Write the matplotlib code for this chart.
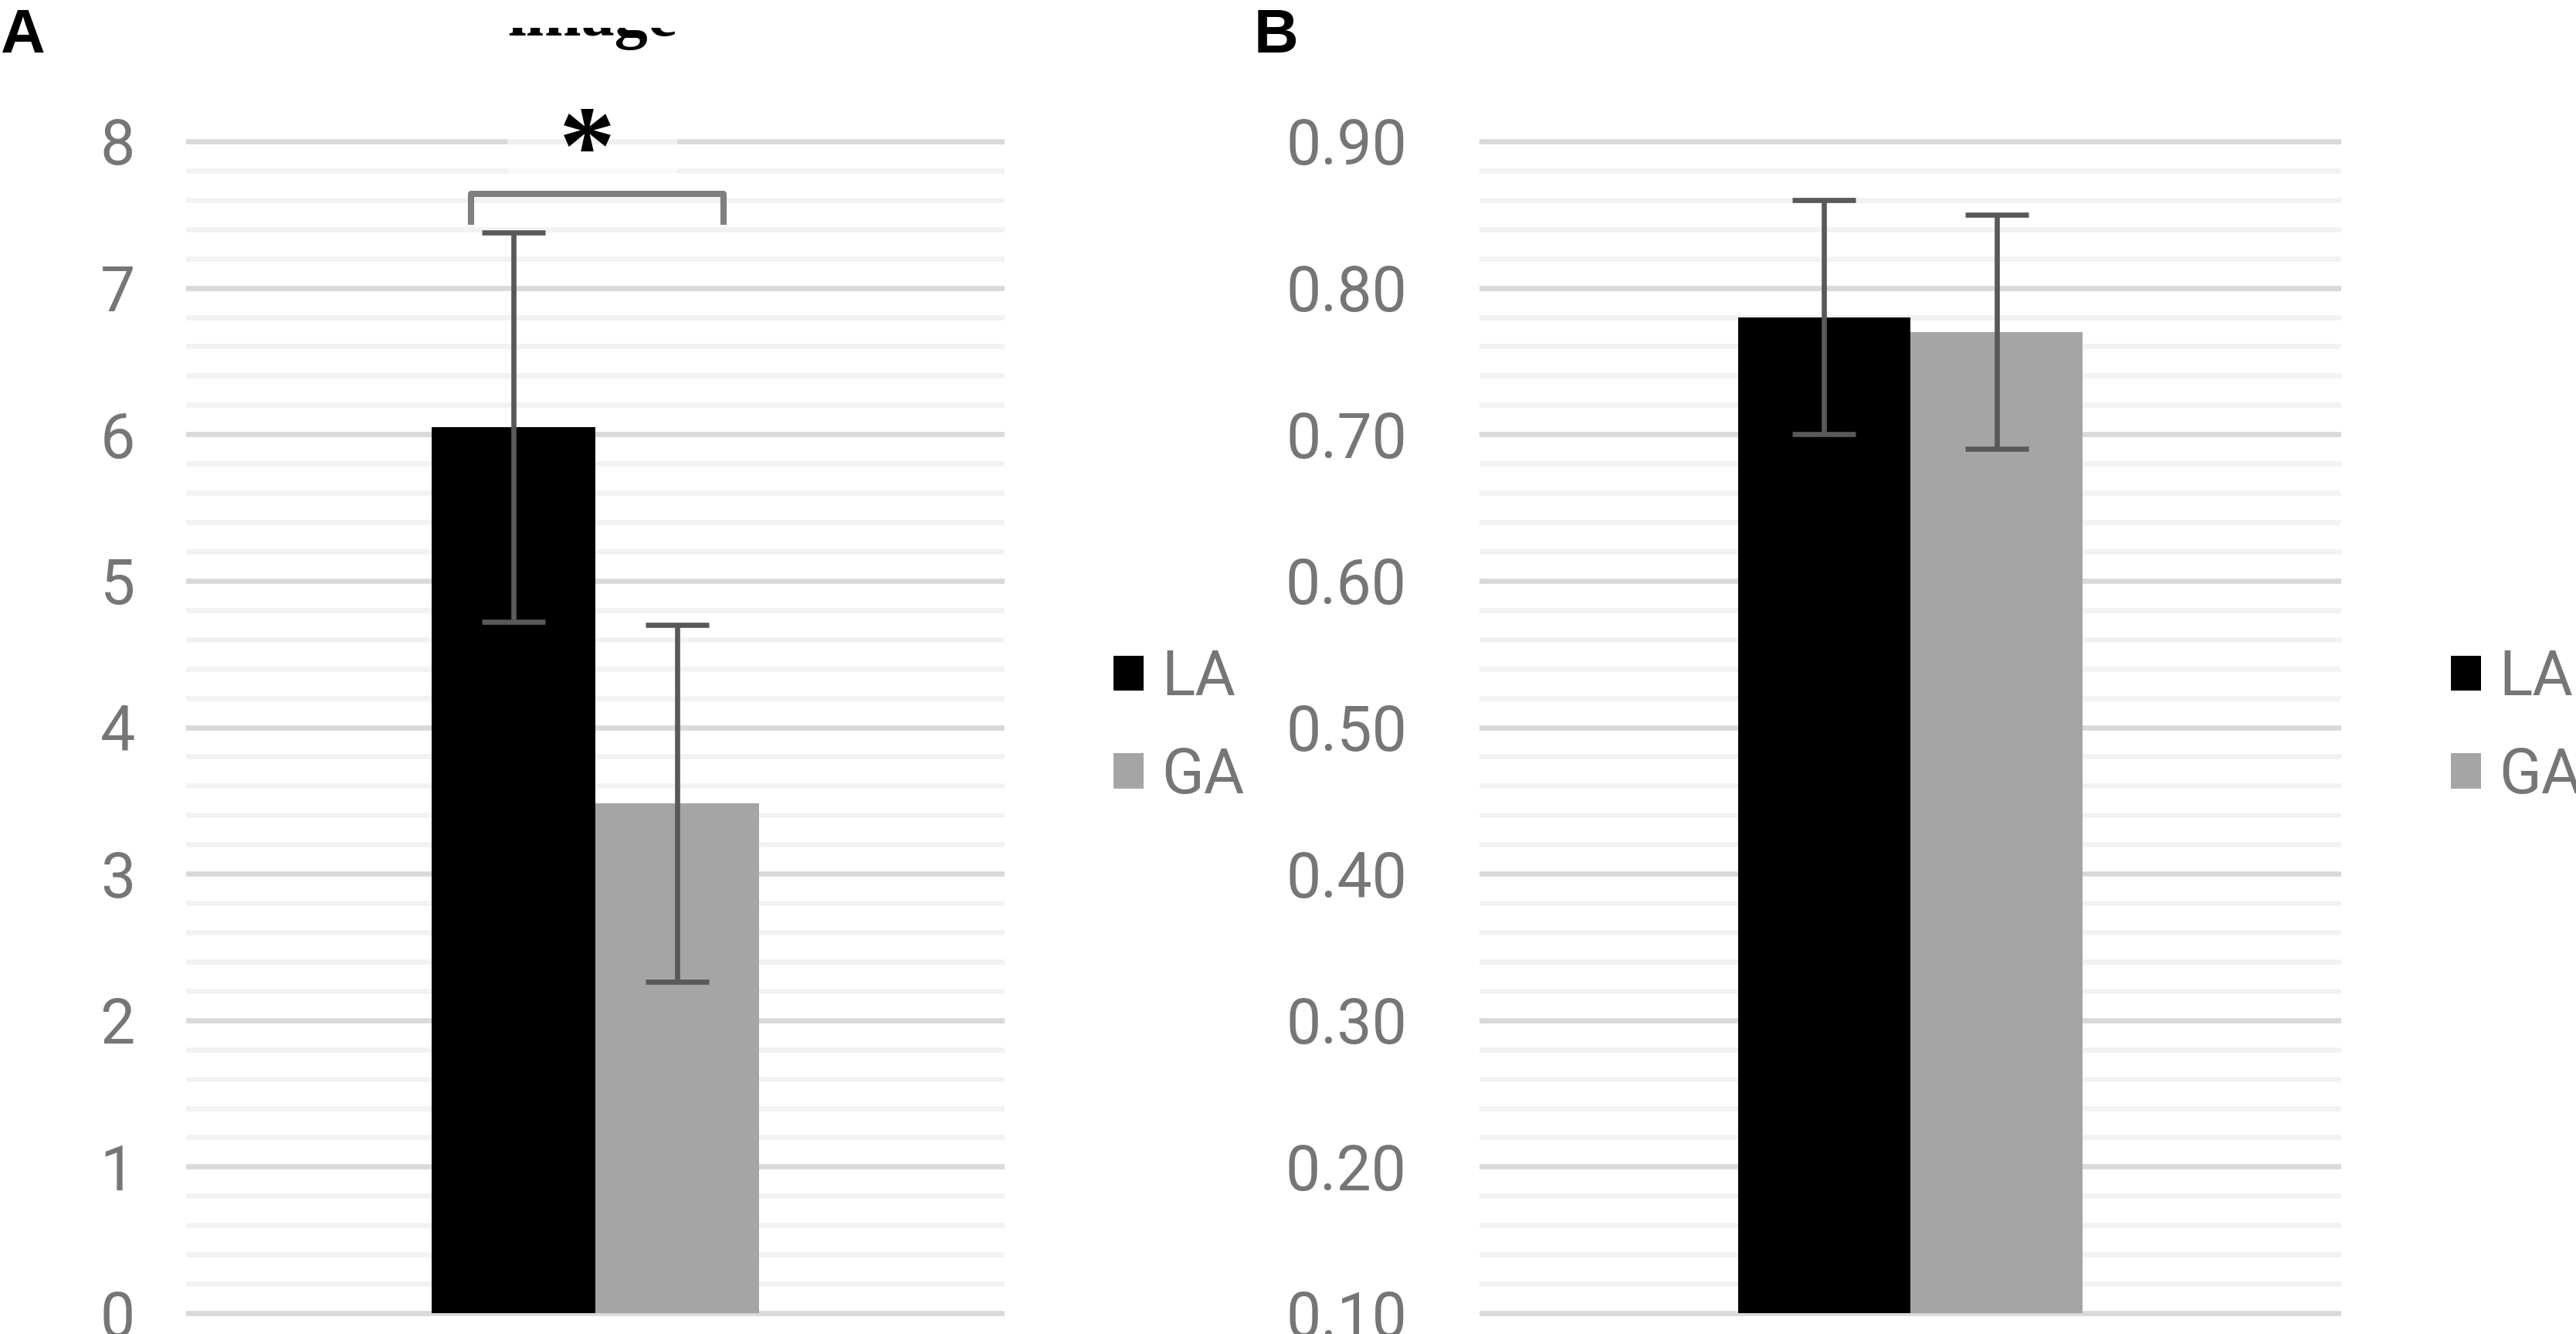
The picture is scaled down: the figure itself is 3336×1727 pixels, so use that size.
import matplotlib
matplotlib.use("Agg")
import matplotlib.pyplot as plt
from matplotlib.ticker import MultipleLocator, FormatStrFormatter
from matplotlib.patches import Rectangle

# ---- data ----
groups = ["LA", "GA"]
a_values = [6.05, 3.48]
a_errors = [1.33, 1.22]
b_values = [0.78, 0.77]
b_errors = [0.08, 0.08]
a_ticks = [0, 1, 2, 3, 4, 5, 6, 7, 8]
b_ticks = [0.10, 0.20, 0.30, 0.40, 0.50, 0.60, 0.70, 0.80, 0.90]
bar_colors = ["#000000", "#a5a5a5"]

FONT = ["Roboto", "DejaVu Sans"]
plt.rcParams["font.family"] = FONT
plt.rcParams["font.weight"] = "normal"

W, H = 3337, 1727
DPI = 100
fig = plt.figure(figsize=(W / DPI, H / DPI), dpi=DPI)
fig.patch.set_facecolor("white")

TXT = "#767676"
FS = 58


def axes_rect(x0, x1, ytop_px, ybot_px, vtop, vbot, ylo, yhi):
    per = (ybot_px - ytop_px) / (vtop - vbot)
    top_px = ytop_px - (yhi - vtop) * per
    bot_px = ybot_px + (vbot - ylo) * per
    return [x0 / W, 1 - bot_px / H, (x1 - x0) / W, (bot_px - top_px) / H]


def style(ax, ticks, minor, pad, fmt):
    ax.set_xlim(-0.5, 0.5)
    ax.set_xticks([])
    ax.set_yticks(ticks)
    ax.yaxis.set_major_formatter(FormatStrFormatter(fmt))
    ax.yaxis.set_minor_locator(MultipleLocator(minor))
    ax.tick_params(axis="y", which="both", length=0, pad=pad,
                   labelsize=FS, labelcolor=TXT)
    for s in ax.spines.values():
        s.set_visible(False)
    ax.set_axisbelow(True)
    ax.grid(which="major", axis="y", color="#d9d9d9", lw=4.8)
    ax.grid(which="minor", axis="y", color="#f2f2f2", lw=4.8)


err_kw = dict(ecolor="#595959", elinewidth=4.8, capsize=29.5, capthick=4.8, zorder=4)
xpos = [-0.1, 0.1]
leg_kw = dict(loc="center left", bbox_transform=fig.transFigure, frameon=False,
              borderpad=0, borderaxespad=0, handlelength=0.49, handleheight=0.49,
              handletextpad=0.28, labelspacing=0.6,
              prop=dict(family=FONT, size=FS, weight="normal"), labelcolor=TXT)

# ---- panel A ----
axA = fig.add_axes(axes_rect(241, 1301, 183, 1700, 8, 0, -0.03, 8.03))
barsA = []
for i in range(2):
    b = axA.bar(xpos[i], a_values[i], 0.2, yerr=a_errors[i], color=bar_colors[i],
                error_kw=err_kw, zorder=3, label=groups[i])
    barsA.append(b[0])
style(axA, a_ticks, 0.2, 47.5, "%d")
axA.set_ylim(-0.03, 8.03)

# significance bracket
axA.plot([-0.152, -0.152, 0.1566, 0.1566], [7.43, 7.64, 7.64, 7.43], color="#7f7f7f",
         lw=5.8, solid_joinstyle="round", solid_capstyle="butt", clip_on=False, zorder=5)
axA.add_patch(Rectangle((-0.1075, 7.73), 0.2075, 0.55, facecolor="white", alpha=0.6,
                        edgecolor="none", clip_on=False, zorder=2))
axA.text(-0.0104, 7.90, "*", ha="center", va="center", fontsize=105,
         fontweight="bold", family=["Liberation Serif", "DejaVu Serif"],
         color="black", clip_on=False, zorder=6)

axA.legend(barsA, groups, bbox_to_anchor=(1442 / W, 1 - 941.5 / H), **leg_kw)

# ---- panel B ----
axB = fig.add_axes(axes_rect(1916, 3032, 183, 1700, 0.90, 0.10, 0.097, 0.903))
base_b = b_ticks[0]
barsB = []
for i in range(2):
    b = axB.bar(xpos[i], b_values[i] - base_b, 0.2, bottom=base_b, yerr=b_errors[i],
                color=bar_colors[i], error_kw=err_kw, zorder=3, label=groups[i])
    barsB.append(b[0])
style(axB, b_ticks, 0.02, 67.7, "%.2f")
axB.set_ylim(0.097, 0.903)

axB.legend(barsB, groups, bbox_to_anchor=(3174 / W, 1 - 941.5 / H), **leg_kw)

# ---- panel letters ----
fig.text(0.0, 1 - 10 / H, "A", ha="left", va="top", fontsize=57.5, fontweight="bold",
         family=["Liberation Sans", "DejaVu Sans"], color="black")
fig.text(1624 / W, 1 - 10 / H, "B", ha="left", va="top", fontsize=57.5, fontweight="bold",
         family=["Liberation Sans", "DejaVu Sans"], color="black")

# clipped caption fragment at the top
fig.text(657 / W, 1 - 46 / H, "image", ha="left", va="baseline", fontsize=62,
         fontweight="bold", family=["Liberation Serif", "DejaVu Serif"], color="black",
         zorder=1)
fig.patches.append(Rectangle((600 / W, 1 - 36 / H), 320 / W, 36 / H, transform=fig.transFigure,
                             facecolor="white", edgecolor="none", zorder=10))

fig.savefig("out.png", dpi=DPI, facecolor="white")
